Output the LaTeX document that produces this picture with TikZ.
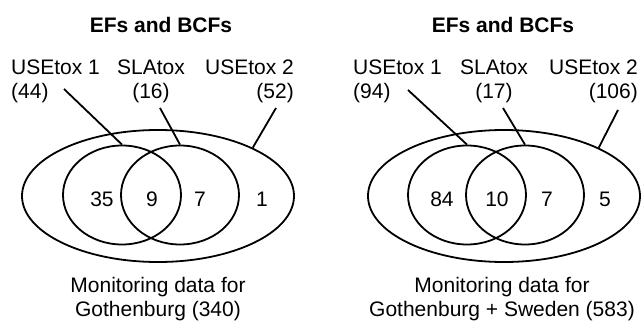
\documentclass[tikz,border=0pt]{standalone}
\usepackage{fontspec}
\setmainfont{Liberation Sans}
\usetikzlibrary{shapes.geometric}
\begin{document}
\begin{tikzpicture}[x=1pt,y=1pt,
  txt/.style={inner sep=0pt,font=\fontsize{21}{24}\selectfont},
  ttl/.style={inner sep=0pt,font=\fontsize{21}{24}\selectfont\bfseries},
  set/.style={ellipse,draw,line width=1.8pt,inner sep=0pt},
  outerset/.style={set,minimum width=272,minimum height=132},
  innerset/.style={set,minimum width=118,minimum height=99},
  lead/.style={line width=1.8pt}]
\useasboundingbox (0,0) rectangle (641,322);
% Gothenburg
\node[ttl,anchor=base] (titL) at (161,289) {EFs and BCFs};
\node[outerset] (ellL) at (158,126) {};
\node[innerset] (circAL) at (122,127) {};
\node[innerset] (circBL) at (180,127) {};
\node[txt,anchor=base] (numAL) at (102,116) {35};
\node[txt,anchor=base] (numABL) at (152,116) {9};
\node[txt,anchor=base] (numBL) at (200,116) {7};
\node[txt,anchor=base] (numOL) at (262,116) {1};
\node[txt,align=left,anchor=north west] (labAL) at (11,262) {USEtox 1\\(44)};
\node[txt,align=center,anchor=north] (labBL) at (151,262) {SLAtox\\(16)};
\node[txt,align=right,anchor=north east] (labOL) at (294,262) {USEtox 2\\(52)};
\node[txt,align=center,anchor=north] (capL) at (158,45) {Monitoring data for\\Gothenburg (340)};
\coordinate (ptAL) at (64,233);
\coordinate (ptBL) at (160,214);
\coordinate (ptOL) at (276,214);
\draw[lead] (ptAL) -- (circAL.north);
\draw[lead] (ptBL) -- (circBL.north);
\draw[lead] (ptOL) -- (ellL.27);
% Gothenburg + Sweden
\node[ttl,anchor=base] (titR) at (503,289) {EFs and BCFs};
\node[outerset] (ellR) at (504,126) {};
\node[innerset] (circAR) at (467,127) {};
\node[innerset] (circBR) at (525,127) {};
\node[txt,anchor=base] (numAR) at (442,116) {84};
\node[txt,anchor=base] (numABR) at (497,116) {10};
\node[txt,anchor=base] (numBR) at (547,116) {7};
\node[txt,anchor=base] (numOR) at (605,116) {5};
\node[txt,align=left,anchor=north west] (labAR) at (353,262) {USEtox 1\\(94)};
\node[txt,align=center,anchor=north] (labBR) at (494,262) {SLAtox\\(17)};
\node[txt,align=right,anchor=north east] (labOR) at (638,262) {USEtox 2\\(106)};
\node[txt,align=center,anchor=north] (capR) at (502,45) {Monitoring data for\\Gothenburg + Sweden (583)};
\coordinate (ptAR) at (408,232);
\coordinate (ptBR) at (503,214);
\coordinate (ptOR) at (618,212);
\draw[lead] (ptAR) -- (circAR.north);
\draw[lead] (ptBR) -- (circBR.north);
\draw[lead] (ptOR) -- (ellR.27);
\end{tikzpicture}
\end{document}
